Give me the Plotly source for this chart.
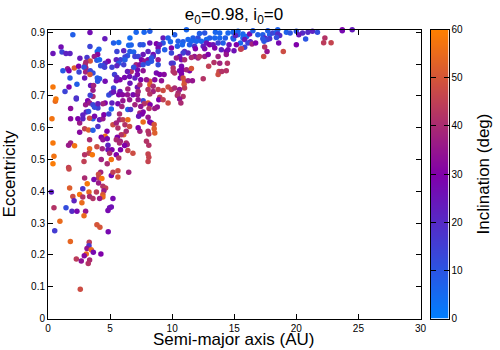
import plotly.graph_objects as go

# semi-major axis (AU), eccentricity, inclination (deg)
semi_major = [
    2.0, 3.38, 4.58, 1.05, 0.4, 1.13, 1.45, 1.77, 3.38, 4.1, 3.97, 5.28, 5.7, 6.6, 6.7, 6.5, 7.1, 5.55, 6.1, 6.6,
    6.9, 6.4, 7.0, 6.2, 4.0, 3.73, 3.94, 4.15, 2.57, 3.14, 3.4, 3.05, 3.0, 3.05, 2.12, 2.47, 1.58, 1.69, 1.2, 2.9,
    2.5, 3.03, 3.4, 3.62, 3.38, 1.77, 2.95, 3.97, 4.15, 4.0, 4.6, 4.85, 4.6, 4.42, 4.24, 4.56, 5.15, 2.33, 1.37, 1.69,
    0.4, 3.43, 3.67, 3.62, 3.62, 3.4, 2.28, 4.9, 5.1, 5.28, 5.28, 5.5, 5.8, 5.36, 5.55, 5.85, 5.5, 5.7, 5.55, 6.1,
    6.2, 6.7, 6.4, 6.17, 6.57, 7.0, 7.1, 7.2, 6.9, 7.2, 6.43, 6.6, 7.2, 5.8, 5.7, 6.0, 6.4, 6.85, 7.2,
    7.74, 8.2, 11.15, 10.2, 7.42, 7.66, 8.2, 8.73, 9.27, 9.67, 9.86, 9.27, 9.0, 8.87, 9.94, 10.48, 10.88, 10.82, 10.42, 11.68,
    12.08, 12.62, 12.2, 13.48, 13.83, 14.28, 13.02, 11.28, 11.55, 11.95, 12.35, 12.76, 13.43, 13.83, 14.1, 13.7, 11.4, 11.8, 12.5, 12.76,
    13.02, 13.3, 12.62, 13.43, 13.96, 14.36, 11.87, 11.0, 11.28, 10.88, 10.6, 9.94, 9.4, 8.87, 8.47, 8.06, 7.66, 7.26, 8.47, 8.87,
    8.06, 7.53, 8.33, 8.33, 7.8, 7.4, 7.66, 8.06, 10.34, 10.75, 11.0, 11.8, 12.62, 12.9, 11.55, 12.08, 12.2, 13.7, 14.36, 14.45,
    13.37, 12.94, 13.83, 13.77, 13.7, 14.0, 14.36, 12.5, 10.08, 9.94, 10.75, 10.6, 10.82, 11.4, 10.08, 10.08, 10.2, 10.75, 10.65, 11.15,
    11.55, 10.88, 11.0, 11.28, 11.63, 10.96, 11.0, 9.35, 8.73, 9.0, 8.87, 7.66, 8.2, 8.2, 7.93, 7.4, 7.47, 8.6, 9.14, 8.47,
    8.06, 8.47, 8.2, 8.87, 9.27, 9.67, 9.94, 10.2, 10.6, 10.48, 10.88, 10.42, 9.0, 7.26,
    14.5, 14.9, 15.3, 15.7, 16.0, 14.9, 15.3, 15.7, 14.95, 15.5, 15.1, 16.24, 15.84, 16.3, 16.1, 16.43, 16.72, 15.17, 14.58, 15.84,
    15.57, 15.52, 14.98, 14.5, 16.9, 17.3, 17.7, 18.5, 16.5, 17.85, 18.1, 18.4, 17.45, 17.85, 17.66, 17.4, 17.3, 18.5, 18.66, 19.2,
    19.5, 20.0, 20.5, 20.2, 20.93, 21.3, 21.7, 18.4, 20.75, 18.58, 20.0, 17.45, 17.64, 18.95, 17.37,
    23.7, 23.7, 24.5, 22.3, 22.2, 22.8,
    0.59, 0.64, 2.28, 3.03, 3.2, 1.82, 0.32, 1.82, 2.55, 2.41, 2.81, 2.81, 3.08, 3.27, 3.35, 3.62, 3.62, 3.35, 3.75, 4.02,
    4.15, 4.42, 4.5, 4.9, 4.6, 5.15, 5.1, 4.42, 4.02, 3.75, 4.02, 5.63, 5.95, 6.43, 6.65, 7.0, 6.03, 6.57, 2.95, 3.27,
    3.62, 2.55, 3.35, 4.75, 5.23, 5.5, 5.76, 5.76, 6.03, 6.43, 6.2, 6.57, 5.63, 6.1, 6.3, 5.9, 4.6, 4.29, 4.42, 4.77,
    5.58, 5.5, 5.82, 6.3, 6.38, 5.76, 6.17, 4.83, 0.4, 1.82, 1.66, 2.14, 3.35, 3.94, 4.37, 3.3, 3.57, 2.95, 4.83, 5.15,
    4.96, 5.5, 5.84, 6.43, 6.84, 0.48, 0.4, 2.9, 4.29, 5.1, 4.77, 5.7, 1.66,
    7.66, 8.06, 7.74, 8.22, 8.14, 7.47, 7.26, 8.92, 9.27, 8.8, 8.6, 9.67, 10.6, 10.7, 7.66, 7.4, 7.58, 7.3, 8.06, 7.66,
    8.2, 8.33, 8.55, 8.55, 8.6, 8.06, 8.12, 7.4, 7.26, 7.93, 8.12, 8.06, 8.12, 8.06,
    1.69, 2.95, 4.24, 4.07, 4.07, 4.34, 5.1, 5.23, 5.63, 6.5, 5.63, 3.16, 3.7, 4.07, 4.42, 4.64, 4.5, 4.42, 4.42, 1.74,
    0.27, 2.8, 2.0, 2.55, 3.3, 2.1, 2.8, 3.35, 3.62, 3.9, 4.16, 5.23, 2.73, 0.48, 1.45, 1.93, 2.33, 3.03, 5.1, 4.96,
    4.83, 2.9, 0.96, 3.94, 4.18, 0.54, 4.85,
    1.8, 3.32, 3.3, 3.14, 3.48, 3.65, 4.26, 3.08, 2.92, 2.28, 2.68, 3.35, 3.24, 2.6,
]
eccentricity = [
    .892, .899, .88, .854, .833, .838, .833, .833, .855, .847, .84, .866, .868, .882, .86, .859, .9, .84, .842, .84,
    .838, .826, .824, .822, .83, .824, .812, .814, .818, .821, .81, .806, .798, .788, .788, .793, .785, .779, .779, .79,
    .775, .775, .779, .772, .767, .756, .756, .756, .754, .746, .746, .809, .803, .795, .795, .79, .79, .737, .714, .728,
    .728, .733, .733, .718, .698, .702, .693, .703, .709, .725, .712, .748, .751, .767, .758, .814, .814, .803, .795, .798,
    .814, .777, .777, .758, .761, .756, .798, .782, .79, .767, .722, .74, .727, .714, .704, .704, .704, .704, .704,
    .9, .903, .908, .892, .861, .861, .866, .864, .882, .882, .87, .866, .861, .851, .851, .872, .87, .861, .856, .882,
    .882, .898, .896, .9, .898, .882, .882, .877, .872, .872, .872, .877, .882, .882, .866, .866, .861, .856, .856, .866,
    .861, .861, .848, .851, .845, .84, .848, .84, .835, .835, .824, .835, .845, .84, .83, .84, .83, .824, .824, .814,
    .814, .814, .809, .819, .809, .798, .798, .803, .819, .814, .814, .824, .824, .83, .821, .819, .824, .824, .83, .803,
    .805, .793, .803, .777, .767, .777, .779, .754, .803, .803, .793, .779, .782, .779, .788, .777, .772, .769, .756, .782,
    .786, .756, .746, .748, .748, .737, .725, .767, .772, .767, .798, .779, .746, .735, .751, .735, .751, .751, .748, .73,
    .72, .714, .706, .72, .717, .728, .72, .725, .72, .709, .698, .701, .696, .714,
    .898, .9, .903, .895, .887, .882, .892, .882, .879, .866, .89, .895, .877, .87, .866, .863, .866, .861, .861, .853,
    .848, .847, .842, .845, .892, .892, .905, .908, .905, .892, .898, .9, .882, .88, .877, .872, .88, .895, .89, .9,
    .898, .903, .898, .892, .9, .903, .9, .884, .879, .866, .861, .854, .84, .84, .824,
    .908, .905, .908, .882, .867, .867,
    .683, .69, .69, .672, .685, .66, .628, .628, .615, .628, .628, .64, .649, .651, .678, .672, .628, .63, .636, .604,
    .625, .628, .641, .643, .678, .678, .659, .675, .662, .664, .675, .675, .667, .657, .657, .672, .685, .688, .597, .593,
    .592, .586, .562, .589, .609, .615, .643, .625, .625, .625, .609, .604, .599, .578, .589, .578, .573, .57, .562, .565,
    .57, .562, .557, .552, .547, .552, .544, .545, .552, .552, .545, .543, .534, .54, .534, .52, .515, .515, .531, .531,
    .52, .515, .531, .528, .52, .51, .487, .494, .5, .5, .487, .505, .475,
    .685, .678, .675, .672, .66, .667, .688, .688, .688, .665, .66, .678, .69, .678, .649, .646, .643, .636, .633, .618,
    .618, .615, .61, .597, .583, .589, .58, .589, .6, .557, .545, .517, .507, .494,
    .47, .442, .46, .454, .442, .44, .45, .46, .465, .46, .445, .424, .437, .426, .416, .41, .402, .39, .382, .41,
    .398, .408, .384, .39, .398, .37, .382, .384, .377, .398, .377, .377, .364, .348, .348, .337, .337, .337, .351, .348,
    .34, .323, .306, .295, .287, .276, .273,
    .242, .24, .229, .22, .216, .208, .203, .203, .197, .187, .181, .184, .173, .092,
]
inclination = [
    8, 27, 24, 27, 25, 14, 22, 22, 14, 8, 6, 8, 5, 5, 7, 6, 6, 14, 22, 8,
    7, 10, 15, 14, 32, 36, 10, 6, 24, 17, 50, 40, 40, 38, 52, 30, 35, 30, 9, 12,
    14, 38, 14, 12, 50, 9, 25, 8, 10, 10, 27, 30, 22, 12, 12, 15, 15, 8, 14, 30,
    58, 25, 38, 36, 40, 15, 18, 12, 18, 14, 25, 28, 30, 15, 22, 14, 22, 10, 22, 15,
    8, 42, 24, 28, 26, 22, 38, 28, 12, 28, 38, 25, 26, 25, 30, 32, 35, 28, 35,
    6, 8, 6, 8, 10, 10, 25, 30, 24, 8, 6, 10, 22, 28, 30, 8, 8, 6, 8, 8,
    12, 10, 8, 6, 6, 8, 8, 6, 6, 6, 6, 6, 6, 6, 8, 14, 8, 18, 22, 25,
    30, 25, 28, 30, 22, 30, 30, 20, 22, 15, 25, 14, 8, 14, 28, 22, 25, 14, 20, 35,
    28, 30, 10, 10, 35, 32, 12, 10, 36, 28, 40, 35, 36, 30, 40, 38, 42, 38, 35, 42,
    42, 45, 38, 47, 48, 42, 42, 42, 14, 18, 28, 28, 30, 30, 42, 42, 42, 30, 30, 38,
    50, 48, 50, 38, 35, 50, 45, 32, 28, 30, 12, 34, 50, 52, 35, 40, 30, 32, 34, 40,
    42, 38, 42, 45, 48, 48, 45, 40, 35, 40, 42, 42, 45, 38,
    6, 6, 6, 6, 6, 6, 7, 6, 8, 6, 22, 28, 25, 22, 14, 38, 30, 30, 26, 14,
    48, 45, 26, 28, 8, 8, 8, 7, 8, 8, 14, 8, 22, 18, 15, 10, 10, 20, 20, 7,
    10, 10, 20, 25, 20, 22, 12, 12, 10, 28, 30, 42, 35, 48, 48,
    30, 28, 24, 42, 44, 46,
    55, 58, 18, 36, 30, 33, 57, 32, 36, 30, 22, 22, 22, 12, 36, 14, 8, 48, 28, 18,
    24, 35, 30, 15, 30, 22, 6, 38, 15, 12, 24, 28, 38, 8, 18, 38, 35, 35, 45, 52,
    8, 32, 40, 30, 48, 38, 40, 38, 45, 55, 42, 48, 42, 52, 40, 42, 55, 30, 34, 28,
    30, 40, 38, 40, 38, 40, 30, 22, 58, 38, 36, 57, 55, 48, 38, 46, 58, 42, 26, 30,
    40, 30, 30, 46, 48, 57, 59, 45, 38, 57, 40, 42, 45,
    14, 50, 42, 30, 42, 35, 35, 30, 45, 34, 36, 48, 35, 40, 30, 38, 30, 25, 35, 55,
    30, 28, 50, 52, 52, 42, 42, 38, 30, 42, 42, 46, 46, 46,
    47, 40, 38, 48, 46, 58, 28, 45, 48, 38, 50, 58, 28, 36, 42, 45, 36, 50, 55, 52,
    22, 18, 48, 58, 54, 22, 42, 40, 42, 44, 36, 28, 55, 42, 12, 20, 28, 35, 26, 26,
    28, 55, 55, 50, 50, 16, 28,
    54, 44, 18, 34, 55, 28, 30, 55, 32, 44, 34, 40, 42, 48,
]
x_ticks = [0, 5, 10, 15, 20, 25, 30]
y_ticks = [0, 0.1, 0.2, 0.3, 0.4, 0.5, 0.6, 0.7, 0.8, 0.9]
y_labels = ["0", "0.1", "0.2", "0.3", "0.4", "0.5", "0.6", "0.7", "0.8", "0.9"]
cbar_ticks = [0, 10, 20, 30, 40, 50, 60]
cbar_levels = [0, 5, 10, 15, 20, 25, 30, 35, 40, 45, 50, 55, 60]

PALETTE = [[0, "#0080ff"], [0.5, "#8000aa"], [1, "#ff8000"]]
FONT = "Liberation Sans, Arial, sans-serif"

fig = go.Figure()
fig.add_trace(go.Scatter(
    x=semi_major,
    y=eccentricity,
    mode="markers",
    cliponaxis=False,
    marker=dict(size=5.5, symbol="circle", color=inclination, colorscale=PALETTE,
                cmin=0, cmax=60, line_width=0, showscale=False),
    hovertemplate="a=%{x}<br>e=%{y}<extra></extra>",
))
# colour box as its own little axis, so its ticks can sit on both sides like gnuplot's
fig.add_trace(go.Heatmap(
    x=[0, 1],
    y=cbar_levels,
    z=[[v, v] for v in cbar_levels],
    zsmooth="best",
    colorscale=PALETTE,
    zmin=0,
    zmax=60,
    showscale=False,
    xaxis="x2",
    yaxis="y2",
    hoverinfo="skip",
))

axis_style = dict(showgrid=False, zeroline=False, showline=True, linecolor="black", linewidth=1,
                  mirror="ticks", ticks="inside", ticklen=5, tickcolor="black", automargin=False)

fig.update_layout(
    width=500, height=350,
    paper_bgcolor="white", plot_bgcolor="white",
    font=dict(family=FONT, color="black"),
    margin=dict(l=0, r=0, t=0, b=0, pad=0),
    title=dict(text="e<sub>0</sub>=0.98, i<sub>0</sub>=0", x=0.468, xanchor="center",
               y=0.96, yanchor="middle", font=dict(size=17)),
    showlegend=False,
    xaxis=dict(domain=[48 / 500, 420.5 / 500], range=[0, 30], tickvals=x_ticks, tickfont=dict(size=10), **axis_style),
    yaxis=dict(domain=[31.5 / 350, 320.5 / 350], range=[0, 0.9088], tickvals=y_ticks, ticktext=y_labels,
               tickfont=dict(size=10), title=dict(text="Eccentricity", font=dict(size=17)), **axis_style),
    xaxis2=dict(domain=[430.5 / 500, 448.5 / 500], range=[0, 1], anchor="y2", showticklabels=False,
                showgrid=False, zeroline=False, showline=True, linecolor="black", linewidth=1, mirror=True,
                ticks="", automargin=False),
    yaxis2=dict(domain=[31.5 / 350, 320.5 / 350], range=[0, 60], anchor="x2", side="right", tickvals=cbar_ticks,
                tickfont=dict(size=10), title=dict(text="Inclination (deg)", font=dict(size=17)),
                **axis_style),
)
# axis titles without automargin can't be nudged, this one has to clear the tick labels
fig.add_annotation(text="Semi-major axis (AU)", xref="paper", yref="paper", x=0.468, y=0,
                   yanchor="bottom", borderpad=0, showarrow=False, font=dict(size=17))

# the default 8px body margin would push the whole figure off the window
fig.write_html("out.html", config={"displayModeBar": False},
               post_script="document.body.style.margin = '0';")
